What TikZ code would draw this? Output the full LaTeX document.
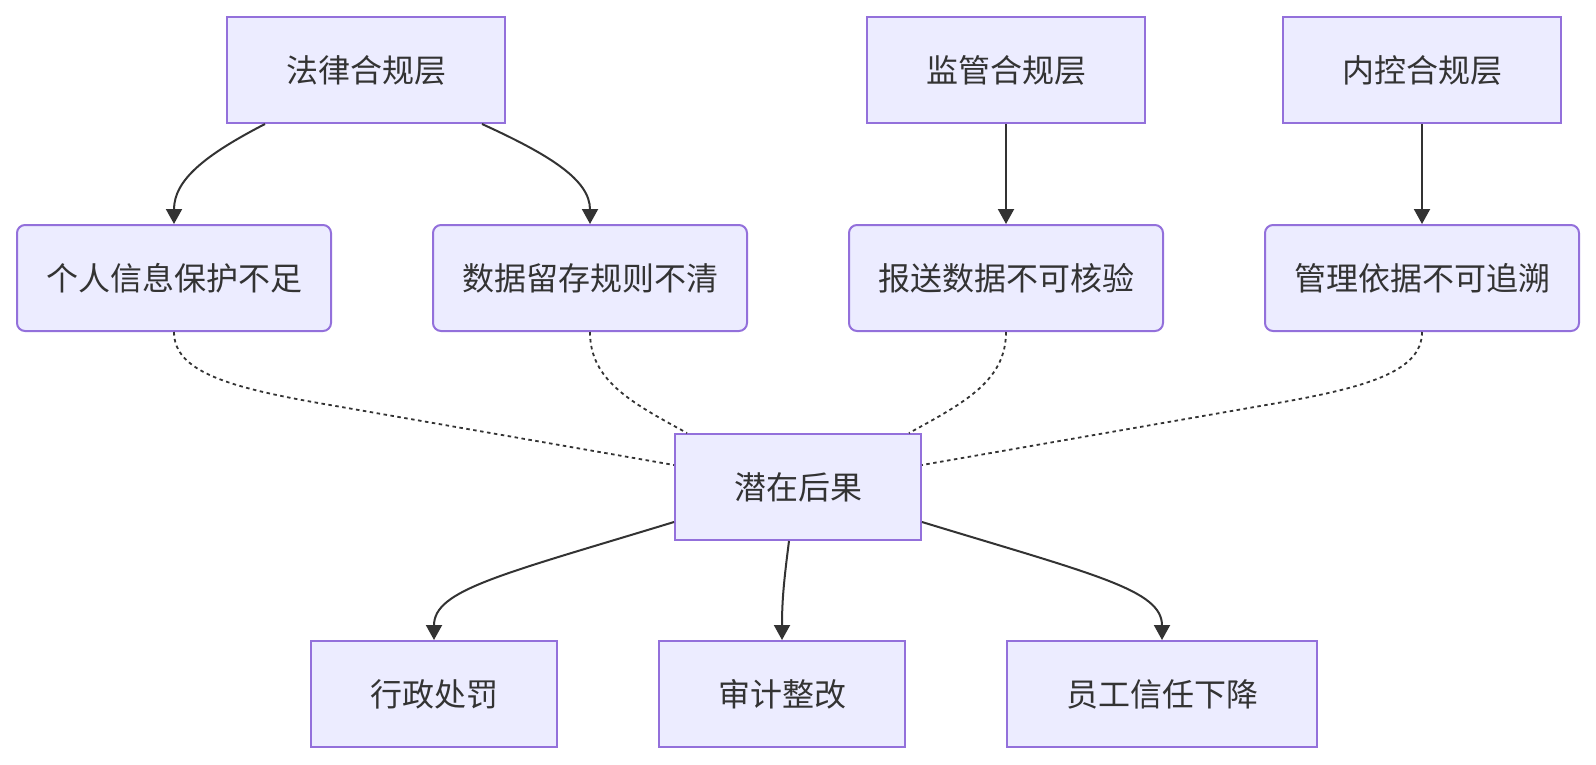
\documentclass[tikz,border=0pt]{standalone}
\usepackage{fontspec}
\setmainfont{Noto Sans CJK SC}
\usetikzlibrary{arrows.meta}
\definecolor{nodefill}{HTML}{ECECFF}
\definecolor{nodeborder}{HTML}{9370DB}
\definecolor{edgecol}{HTML}{333333}
\begin{document}
\begin{tikzpicture}[x=1pt,y=-1pt,
  box/.style={draw=nodeborder,fill=nodefill,line width=2pt,minimum height=106pt,inner sep=0pt,text=edgecol,font=\fontsize{32}{38}\selectfont},
  rbox/.style={box,rounded corners=8pt},
  arr/.style={draw=edgecol,line width=2pt,-{Triangle[length=15pt,width=16pt]}},
  dashlink/.style={draw=edgecol,line width=1.8pt,dash pattern=on 3.5pt off 3.5pt}
]
\useasboundingbox (0,0) rectangle (1596,764);
% top layer
\node[box,minimum width=278pt] (law) at (366,70) {法律合规层};
\node[box,minimum width=278pt] (reg) at (1006,70) {监管合规层};
\node[box,minimum width=278pt] (ic)  at (1422,70) {内控合规层};
% middle layer
\node[rbox,minimum width=314pt] (pi) at (174,278) {个人信息保护不足};
\node[rbox,minimum width=314pt] (dr) at (590,278) {数据留存规则不清};
\node[rbox,minimum width=314pt] (rd) at (1006,278) {报送数据不可核验};
\node[rbox,minimum width=314pt] (mb) at (1422,278) {管理依据不可追溯};
% consequence
\node[box,minimum width=246pt] (cq) at (798,487) {潜在后果};
% bottom
\node[box,minimum width=246pt] (ap) at (434,694) {行政处罚};
\node[box,minimum width=246pt] (au) at (782,694) {审计整改};
\node[box,minimum width=310pt] (tr) at (1162,694) {员工信任下降};

% top arrows
\draw[arr] ([xshift=-101pt]law.south) .. controls (205,155) and (174,180) .. (pi.north);
\draw[arr] ([xshift=116pt]law.south) .. controls (550,155) and (590,180) .. (dr.north);
\draw[arr] (reg.south) -- (rd.north);
\draw[arr] (ic.south) -- (mb.north);

% dashed links
\coordinate (j1) at (330,405);
\coordinate (j4) at (1266,405);
\draw[dashlink] (pi.south) .. controls (174,372) and (230,388) .. (j1) -- ([yshift=22pt]cq.west);
\draw[dashlink] (dr.south) .. controls (590,380) and (630,402) .. ([xshift=-111pt]cq.north);
\draw[dashlink] (rd.south) .. controls (1006,380) and (966,402) .. ([xshift=111pt]cq.north);
\draw[dashlink] (mb.south) .. controls (1422,372) and (1366,388) .. (j4) -- ([yshift=22pt]cq.east);

% bottom arrows
\draw[arr] ([yshift=-35pt]cq.west) .. controls (500,575) and (434,590) .. (ap.north);
\draw[arr] ([xshift=-9pt]cq.south) .. controls (784,580) and (782,600) .. (au.north);
\draw[arr] ([yshift=-35pt]cq.east) .. controls (1096,575) and (1162,590) .. (tr.north);
\end{tikzpicture}
\end{document}
